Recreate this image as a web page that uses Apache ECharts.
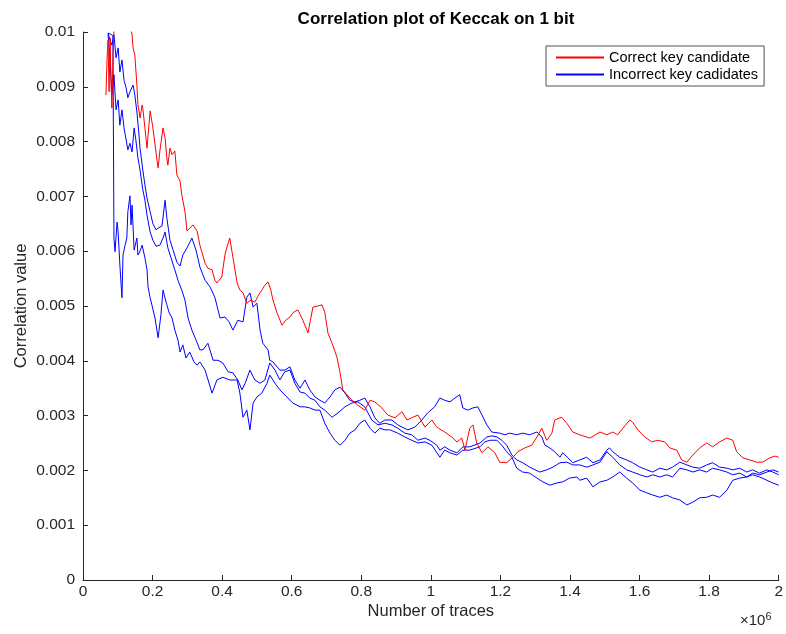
<!DOCTYPE html>
<html>
<head>
<meta charset="utf-8">
<title>Correlation plot of Keccak on 1 bit</title>
<script src="https://cdn.jsdelivr.net/npm/echarts@6/dist/echarts.min.js"></script>
<style>
  html, body { margin: 0; padding: 0; background: #fff; }
  #chart { width: 786px; height: 634px; }
</style>
</head>
<body>
<div id="chart"></div>
<script>
// Number of traces (in millions) and correlation value, per key candidate.
const correctKey = [
  [0.066,0.00885],[0.069,0.00949],[0.072,0.00985],[0.075,0.00891],[0.078,0.00989],[0.080,0.00922],
  [0.083,0.00861],[0.086,0.00949],[0.089,0.01004],[0.101,0.0102],[0.112,0.01007],[0.121,0.0101],
  [0.129,0.0102],[0.138,0.01004],[0.141,0.00995],[0.144,0.00971],[0.149,0.00958],[0.155,0.00903],
  [0.158,0.00867],[0.164,0.00843],[0.170,0.00867],[0.172,0.00861],[0.178,0.00825],[0.184,0.00788],
  [0.193,0.00856],[0.201,0.00825],[0.213,0.00765],[0.216,0.00752],[0.221,0.00783],[0.230,0.00825],
  [0.236,0.00807],[0.241,0.0077],[0.244,0.00757],[0.250,0.00788],[0.256,0.00776],[0.264,0.00783],
  [0.270,0.00739],[0.279,0.00728],[0.284,0.00703],[0.293,0.00673],[0.299,0.00637],[0.307,0.00642],
  [0.316,0.00648],[0.328,0.00637],[0.336,0.00611],[0.351,0.00578],[0.359,0.00569],[0.371,0.00566],
  [0.379,0.00547],[0.385,0.00542],[0.399,0.00553],[0.408,0.00593],[0.414,0.00608],[0.422,0.00624],
  [0.431,0.00589],[0.443,0.00542],[0.451,0.00529],[0.460,0.00524],[0.471,0.00505],[0.483,0.00511],
  [0.494,0.00507],[0.503,0.00518],[0.514,0.00529],[0.523,0.00538],[0.532,0.00544],[0.540,0.00529],
  [0.546,0.00511],[0.557,0.00489],[0.572,0.00465],[0.583,0.00474],[0.595,0.0048],[0.606,0.00489],
  [0.618,0.00493],[0.632,0.00474],[0.647,0.00451],[0.655,0.00478],[0.661,0.00498],[0.675,0.005],
  [0.687,0.00502],[0.695,0.00489],[0.704,0.00451],[0.716,0.00432],[0.730,0.00407],[0.739,0.00378],
  [0.747,0.00347],[0.759,0.00338],[0.773,0.00328],[0.790,0.00319],[0.810,0.0031],[0.825,0.00328],
  [0.839,0.00325],[0.859,0.00314],[0.876,0.00301],[0.897,0.00296],[0.917,0.00307],[0.931,0.00292],
  [0.948,0.00297],[0.963,0.00301],[0.983,0.00279],[1.003,0.00292],[1.017,0.00279],[1.040,0.0027],
  [1.060,0.00261],[1.075,0.00252],[1.089,0.00259],[1.098,0.00237],[1.112,0.00277],[1.121,0.00283],
  [1.132,0.0025],[1.147,0.00232],[1.164,0.00243],[1.184,0.00232],[1.198,0.00215],[1.218,0.00214],
  [1.236,0.00224],[1.250,0.00234],[1.270,0.00241],[1.290,0.00246],[1.305,0.00261],[1.319,0.00277],
  [1.333,0.00255],[1.348,0.00268],[1.356,0.00292],[1.376,0.00297],[1.391,0.00286],[1.408,0.0027],
  [1.428,0.00265],[1.457,0.00259],[1.486,0.0027],[1.506,0.00265],[1.523,0.0027],[1.537,0.00265],
  [1.552,0.00277],[1.572,0.00292],[1.580,0.00288],[1.595,0.00274],[1.615,0.00261],[1.635,0.00252],
  [1.652,0.00255],[1.672,0.00252],[1.687,0.00241],[1.707,0.00237],[1.721,0.00219],[1.736,0.00215],
  [1.753,0.00228],[1.773,0.00241],[1.793,0.0025],[1.810,0.00243],[1.830,0.00252],[1.851,0.00259],
  [1.868,0.00255],[1.879,0.00234],[1.897,0.00223],[1.917,0.00219],[1.937,0.00215],[1.954,0.00215],
  [1.974,0.00223],[1.989,0.00226],[2.000,0.00224]
];

const incorrectKeyA = [
  [0.072,0.00998],[0.078,0.00985],[0.083,0.00976],[0.089,0.00995],[0.095,0.00953],[0.101,0.00971],
  [0.106,0.00927],[0.112,0.00949],[0.118,0.00912],[0.124,0.00898],[0.129,0.0088],[0.135,0.00891],
  [0.144,0.00903],[0.149,0.00885],[0.155,0.00854],[0.161,0.00812],[0.164,0.00788],[0.172,0.00748],
  [0.178,0.00721],[0.184,0.00697],[0.193,0.00672],[0.201,0.0065],[0.210,0.00639],[0.216,0.00642],
  [0.227,0.00646],[0.236,0.00693],[0.241,0.00661],[0.250,0.0062],[0.259,0.00602],[0.270,0.0058],
  [0.279,0.00573],[0.287,0.00593],[0.299,0.00606],[0.313,0.00624],[0.325,0.00602],[0.336,0.00571],
  [0.351,0.00547],[0.365,0.00535],[0.379,0.00516],[0.394,0.00478],[0.408,0.0048],[0.420,0.00471],
  [0.431,0.00456],[0.445,0.00474],[0.460,0.00471],[0.471,0.00516],[0.480,0.00524],[0.489,0.00498],
  [0.500,0.00505],[0.509,0.00456],[0.517,0.00432],[0.532,0.0042],[0.537,0.00401],[0.546,0.00398],
  [0.566,0.00383],[0.580,0.00383],[0.595,0.00389],[0.609,0.00365],[0.624,0.0035],[0.638,0.00365],
  [0.652,0.00347],[0.667,0.00334],[0.681,0.00328],[0.695,0.00323],[0.710,0.00334],[0.724,0.00347],
  [0.739,0.00352],[0.753,0.00341],[0.767,0.00328],[0.782,0.00325],[0.796,0.00328],[0.810,0.00332],
  [0.825,0.00316],[0.839,0.00296],[0.853,0.00286],[0.868,0.00292],[0.888,0.00292],[0.905,0.00283],
  [0.917,0.00279],[0.934,0.00274],[0.954,0.00279],[0.974,0.00292],[0.991,0.00305],[1.011,0.00316],
  [1.026,0.00332],[1.040,0.00328],[1.055,0.00325],[1.069,0.00332],[1.083,0.00338],[1.092,0.00314],
  [1.106,0.0031],[1.121,0.00314],[1.135,0.00316],[1.147,0.00301],[1.161,0.00283],[1.175,0.0027],
  [1.198,0.00268],[1.213,0.00265],[1.227,0.00268],[1.247,0.00265],[1.264,0.00268],[1.284,0.00265],
  [1.305,0.0027],[1.319,0.00261],[1.328,0.00246],[1.342,0.00241],[1.356,0.00234],[1.371,0.00224],
  [1.379,0.00232],[1.394,0.00223],[1.408,0.00214],[1.428,0.00219],[1.448,0.00224],[1.466,0.00214],
  [1.486,0.00219],[1.506,0.00237],[1.514,0.00241],[1.523,0.00234],[1.543,0.00224],[1.563,0.00219],
  [1.580,0.00214],[1.601,0.00206],[1.621,0.00201],[1.638,0.00197],[1.658,0.00204],[1.678,0.00201],
  [1.695,0.00206],[1.716,0.00215],[1.736,0.0021],[1.753,0.00206],[1.773,0.00204],[1.793,0.0021],
  [1.810,0.00214],[1.830,0.00206],[1.851,0.00204],[1.868,0.00201],[1.888,0.00204],[1.908,0.00197],
  [1.925,0.00201],[1.945,0.00195],[1.966,0.00201],[1.983,0.00197],[2.000,0.00192]
];

const incorrectKeyB = [
  [0.072,0.00996],[0.078,0.00949],[0.083,0.00885],[0.089,0.00922],[0.095,0.00858],[0.101,0.00876],
  [0.106,0.0083],[0.112,0.00858],[0.118,0.00825],[0.124,0.00803],[0.129,0.00785],[0.135,0.00797],
  [0.141,0.00781],[0.147,0.00825],[0.152,0.00803],[0.158,0.0077],[0.164,0.00748],[0.172,0.00712],
  [0.178,0.00693],[0.184,0.00666],[0.193,0.00635],[0.201,0.0062],[0.210,0.00609],[0.221,0.00611],
  [0.230,0.00624],[0.236,0.00635],[0.244,0.00606],[0.253,0.00588],[0.264,0.00566],[0.273,0.00547],
  [0.284,0.00529],[0.293,0.00511],[0.302,0.00478],[0.313,0.00456],[0.325,0.00438],[0.336,0.0042],
  [0.345,0.0042],[0.359,0.00432],[0.374,0.00401],[0.388,0.00401],[0.402,0.00396],[0.417,0.0038],
  [0.431,0.00378],[0.445,0.00365],[0.457,0.00347],[0.466,0.00359],[0.480,0.00383],[0.494,0.00365],
  [0.509,0.00359],[0.523,0.00365],[0.537,0.00396],[0.552,0.00383],[0.566,0.00365],[0.580,0.0038],
  [0.595,0.00383],[0.609,0.00359],[0.624,0.00343],[0.638,0.00341],[0.652,0.00332],[0.667,0.00328],
  [0.681,0.00316],[0.695,0.0031],[0.716,0.00297],[0.733,0.00305],[0.753,0.00316],[0.773,0.00323],
  [0.790,0.00325],[0.810,0.00316],[0.830,0.00292],[0.848,0.00283],[0.868,0.00286],[0.888,0.00283],
  [0.905,0.00277],[0.925,0.00268],[0.945,0.00265],[0.963,0.00255],[0.983,0.00259],[0.997,0.00255],
  [1.017,0.00246],[1.026,0.00237],[1.040,0.00243],[1.055,0.00237],[1.075,0.00232],[1.092,0.00243],
  [1.112,0.00243],[1.141,0.0025],[1.161,0.00261],[1.175,0.00263],[1.190,0.00261],[1.204,0.00255],
  [1.218,0.00246],[1.233,0.00228],[1.247,0.00219],[1.264,0.00214],[1.284,0.00206],[1.313,0.00197],
  [1.333,0.00201],[1.351,0.00206],[1.371,0.00214],[1.391,0.00215],[1.408,0.0021],[1.428,0.0021],
  [1.448,0.00206],[1.466,0.0021],[1.486,0.00215],[1.506,0.00234],[1.523,0.00224],[1.543,0.0021],
  [1.563,0.00201],[1.580,0.00197],[1.601,0.00192],[1.621,0.00188],[1.638,0.00192],[1.658,0.00188],
  [1.678,0.00192],[1.695,0.00188],[1.716,0.00204],[1.736,0.00201],[1.753,0.00197],[1.773,0.00201],
  [1.793,0.00197],[1.810,0.00204],[1.830,0.00201],[1.851,0.00197],[1.868,0.00192],[1.888,0.00195],
  [1.908,0.00188],[1.925,0.00192],[1.945,0.00188],[1.966,0.00182],[1.983,0.00177],[2.000,0.00173]
];

const incorrectKeyC = [
  [0.072,0.00998],[0.080,0.00996],[0.086,0.00993],[0.089,0.00624],[0.092,0.00599],[0.098,0.00653],
  [0.101,0.00635],[0.106,0.00575],[0.112,0.00515],[0.115,0.00593],[0.121,0.00611],[0.126,0.00624],
  [0.129,0.00672],[0.135,0.00701],[0.138,0.00648],[0.141,0.00684],[0.147,0.00602],[0.155,0.00624],
  [0.158,0.00593],[0.164,0.006],[0.170,0.00611],[0.178,0.00588],[0.184,0.00566],[0.187,0.00535],
  [0.193,0.00515],[0.198,0.00502],[0.207,0.00478],[0.216,0.00442],[0.224,0.00484],[0.230,0.00529],
  [0.239,0.00507],[0.247,0.00489],[0.256,0.00478],[0.264,0.00456],[0.273,0.00438],[0.279,0.00416],
  [0.287,0.00429],[0.296,0.00405],[0.307,0.00416],[0.319,0.00398],[0.328,0.00392],[0.336,0.00398],
  [0.351,0.00383],[0.371,0.00341],[0.385,0.00365],[0.402,0.0037],[0.422,0.00365],[0.443,0.00365],
  [0.451,0.00341],[0.460,0.00297],[0.471,0.0031],[0.480,0.00274],[0.489,0.00323],[0.500,0.00334],
  [0.514,0.00341],[0.529,0.00359],[0.537,0.00374],[0.552,0.00359],[0.566,0.00347],[0.586,0.00334],
  [0.603,0.00323],[0.624,0.00316],[0.638,0.00316],[0.652,0.00314],[0.667,0.0031],[0.681,0.0031],
  [0.695,0.00286],[0.710,0.00268],[0.724,0.00255],[0.739,0.00246],[0.753,0.00255],[0.767,0.00268],
  [0.782,0.00274],[0.796,0.00286],[0.810,0.00292],[0.825,0.00277],[0.839,0.00268],[0.853,0.00277],
  [0.868,0.00274],[0.882,0.00274],[0.905,0.00268],[0.925,0.00261],[0.945,0.00255],[0.963,0.0025],
  [0.983,0.00252],[1.003,0.00246],[1.026,0.00224],[1.040,0.00237],[1.055,0.00232],[1.075,0.00228],
  [1.092,0.00237],[1.112,0.00237],[1.141,0.00243],[1.155,0.00252],[1.170,0.00255],[1.190,0.00255],
  [1.204,0.00246],[1.218,0.00234],[1.233,0.00224],[1.247,0.00204],[1.264,0.00197],[1.284,0.00195],
  [1.305,0.00186],[1.322,0.00179],[1.342,0.00173],[1.362,0.00177],[1.379,0.00179],[1.399,0.00186],
  [1.420,0.00188],[1.428,0.00182],[1.448,0.00186],[1.466,0.0017],[1.486,0.00179],[1.506,0.00182],
  [1.523,0.00188],[1.543,0.00197],[1.563,0.00186],[1.580,0.00177],[1.601,0.00164],[1.621,0.00159],
  [1.638,0.00155],[1.658,0.00151],[1.678,0.00155],[1.695,0.0015],[1.716,0.00146],[1.736,0.00137],
  [1.753,0.00142],[1.773,0.0015],[1.793,0.00151],[1.810,0.00155],[1.830,0.00151],[1.851,0.00164],
  [1.868,0.00182],[1.888,0.00186],[1.908,0.00188],[1.925,0.00195],[1.945,0.00192],[1.966,0.00197],
  [1.983,0.00201],[2.000,0.00197]
];

const seriesNames = ['Correct key candidate', 'Incorrect key cadidates'];
const titleText = 'Correlation plot of Keccak on 1 bit';
const xAxisName = 'Number of traces';
const yAxisName = 'Correlation value';

const FONT = '"Liberation Sans", Arial, Helvetica, sans-serif';
const INK = '#262626';

function lineSeries(name, data, color, z) {
  return {
    name: name,
    type: 'line',
    data: data,
    showSymbol: false,
    clip: true,
    z: z,
    lineStyle: { color: color, width: 1 },
    itemStyle: { color: color },
    emphasis: { disabled: true }
  };
}

const chart = echarts.init(document.getElementById('chart'), null, { renderer: 'canvas' });
chart.setOption({
  animation: false,
  backgroundColor: '#ffffff',
  title: {
    text: titleText,
    left: 431,
    top: 6,
    textAlign: 'center',
    textStyle: { fontFamily: FONT, fontSize: 17, fontWeight: 'bold', color: '#000' }
  },
  legend: {
    data: seriesNames,
    orient: 'vertical',
    left: 546,
    top: 46,
    padding: [4, 6, 4, 10],
    itemGap: 2,
    itemWidth: 48,
    itemHeight: 2,
    icon: 'rect',
    selectedMode: false,
    borderColor: INK,
    borderWidth: 0.8,
    backgroundColor: '#fff',
    textStyle: { fontFamily: FONT, fontSize: 14.5, color: '#000', padding: [0, 0, 0, 0] }
  },
  grid: { left: 83, right: 7, top: 32, height: 548, containLabel: false },
  xAxis: {
    type: 'value',
    min: 0, max: 2, interval: 0.2,
    name: xAxisName,
    nameLocation: 'middle',
    nameGap: 23,
    nameMoveOverlap: false,
    nameTextStyle: { fontFamily: FONT, fontSize: 16.5, color: INK },
    axisLine: { show: true, onZero: false, lineStyle: { color: INK, width: 1 } },
    axisTick: { show: true, inside: true, length: 5, lineStyle: { color: INK } },
    axisLabel: {
      fontFamily: FONT, fontSize: 15.5, color: INK, margin: 4,
      formatter: v => String(+v.toFixed(1))
    },
    splitLine: { show: false }
  },
  yAxis: {
    type: 'value',
    min: 0, max: 0.01, interval: 0.001,
    name: yAxisName,
    nameLocation: 'middle',
    nameGap: 53,
    nameMoveOverlap: false,
    nameTextStyle: { fontFamily: FONT, fontSize: 16.5, color: INK },
    axisLine: { show: true, onZero: false, lineStyle: { color: INK, width: 1 } },
    axisTick: { show: true, inside: true, length: 5, lineStyle: { color: INK } },
    axisLabel: {
      fontFamily: FONT, fontSize: 15.5, color: INK, margin: 8,
      formatter: v => String(+v.toFixed(3))
    },
    splitLine: { show: false }
  },
  graphic: [{
    type: 'text',
    left: 740,
    top: 611,
    style: {
      text: '×10{sup|6}',
      fontFamily: FONT,
      fontSize: 15,
      fill: INK,
      rich: { sup: { fontSize: 11, verticalAlign: 'top', padding: [0, 0, 9, 0], fill: INK } }
    }
  }],
  series: [
    lineSeries(seriesNames[1], incorrectKeyA, '#0000ff', 2),
    lineSeries(seriesNames[1], incorrectKeyB, '#0000ff', 2),
    lineSeries(seriesNames[1], incorrectKeyC, '#0000ff', 2),
    lineSeries(seriesNames[0], correctKey, '#ff0000', 3)
  ]
});
</script>
</body>
</html>
